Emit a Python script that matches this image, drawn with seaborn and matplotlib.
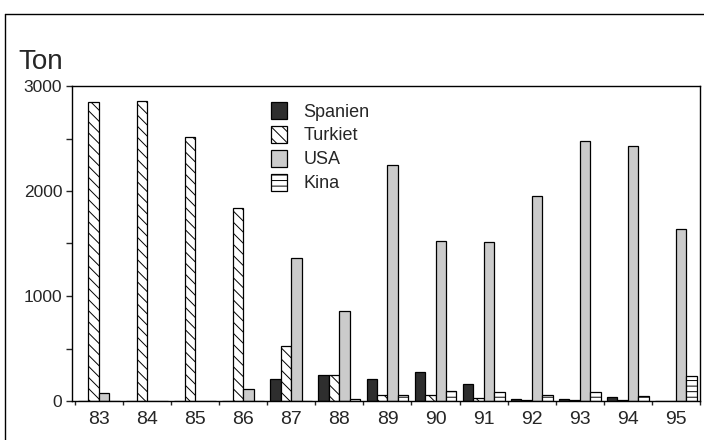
import pandas as pd
import matplotlib.pyplot as plt
import seaborn as sns
from matplotlib.patches import Patch
from matplotlib.lines import Line2D
from matplotlib.ticker import MultipleLocator

years = ["83", "84", "85", "86", "87", "88", "89", "90", "91", "92", "93", "94", "95"]
countries = ["Spanien", "Turkiet", "USA", "Kina"]
spanien = [0, 0, 0, 0, 210, 243, 210, 275, 160, 20, 20, 40, 0]
turkiet = [2850, 2860, 2510, 1840, 520, 252, 60, 60, 25, 5, 5, 5, 0]
usa = [75, 0, 0, 110, 1360, 860, 2250, 1520, 1510, 1950, 2480, 2430, 1640]
kina = [0, 0, 0, 0, 0, 15, 55, 100, 85, 60, 90, 45, 240]

df = pd.DataFrame({
    "year": years * 4,
    "country": [c for c in countries for _ in years],
    "ton": spanien + turkiet + usa + kina,
})

sns.set_style("ticks")
plt.rcParams["font.family"] = ["Liberation Sans", "DejaVu Sans"]
plt.rcParams["hatch.linewidth"] = 0.7

fills = {"Spanien": "#2e2e2e", "Turkiet": "white", "USA": "#cbcbcb", "Kina": "white"}
hatches = {"Spanien": "", "Turkiet": "\\\\\\", "USA": "", "Kina": "---"}

fig = plt.figure(figsize=(7.04, 4.4), dpi=100)
ax = fig.add_axes([72 / 704, 1 - 401 / 440, 628 / 704, 315 / 440])

sns.barplot(data=df, x="year", y="ton", hue="country", order=years,
            hue_order=countries, palette=fills, width=0.87, gap=0,
            edgecolor="black", linewidth=0.9, legend=False, ax=ax)

for cont, c in zip(ax.containers, countries):
    for bar in cont:
        bar.set_hatch(hatches[c])

ax.set_xlim(-0.56, 12.44)
ax.set_ylim(0, 3000)
ax.set_xlabel("")
ax.set_ylabel("")
ax.set_yticks([0, 1000, 2000, 3000])
ax.yaxis.set_minor_locator(MultipleLocator(500))
ax.tick_params(axis="y", which="both", direction="out", length=4, width=1,
               labelsize=12.5, pad=3)
ax.set_xticks(range(len(years)))
ax.set_xticklabels(years)
ax.set_xticks([i - 0.5 for i in range(len(years) + 1)], minor=True)
ax.tick_params(axis="x", which="major", length=0, labelsize=14, pad=7)
ax.tick_params(axis="x", which="minor", direction="out", length=3, width=1)
for s in ax.spines.values():
    s.set_visible(True)
    s.set_linewidth(1)
    s.set_color("black")

handles = [Patch(facecolor=fills[c], edgecolor="black", hatch=hatches[c],
                 linewidth=0.9) for c in countries]
ax.legend(handles, countries, loc="upper left", frameon=False,
          bbox_to_anchor=(271 / 704, 1 - 102 / 440), bbox_transform=fig.transFigure,
          fontsize=13, handlelength=0.9, handleheight=1.05, handletextpad=0.9,
          labelspacing=0.3, borderpad=0, borderaxespad=0)

fig.text(18 / 704, 1 - 62 / 440, "Ton", fontsize=20, va="center", ha="left")

fig.add_artist(Line2D([5 / 704, 5 / 704], [0, 1 - 14 / 440], color="black", lw=1))
fig.add_artist(Line2D([5 / 704, 1], [1 - 14 / 440, 1 - 14 / 440], color="black", lw=1))

fig.savefig("out.png", dpi=100)
